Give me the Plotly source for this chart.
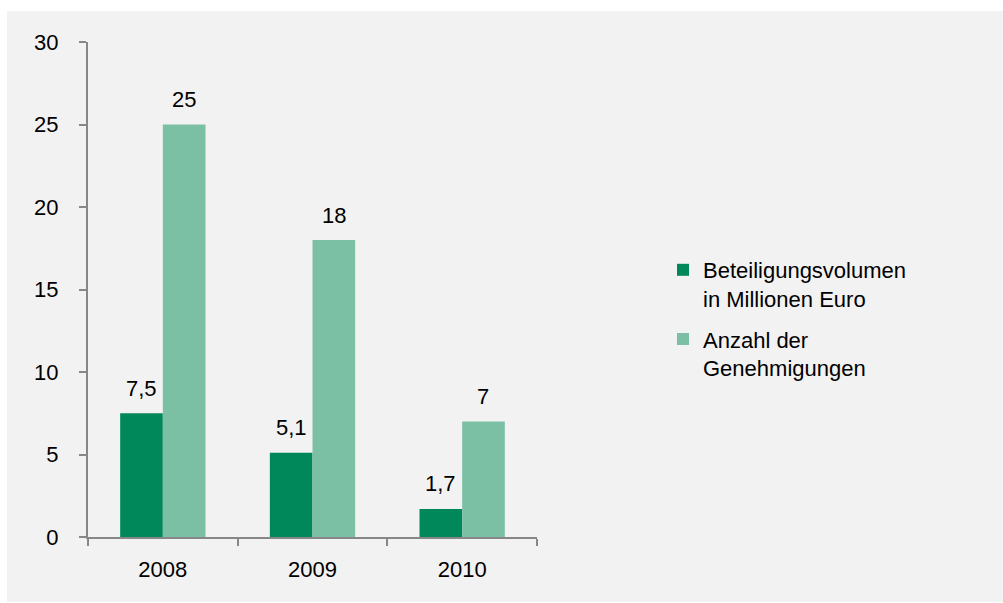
import plotly.graph_objects as go

# Values per year
years = ["2008", "2009", "2010"]
volumen = [7.5, 5.1, 1.7]          # Beteiligungsvolumen in Millionen Euro
genehmigungen = [25, 18, 7]        # Anzahl der Genehmigungen

series_names = ["Beteiligungsvolumen<br>in Millionen Euro", "Anzahl der<br>Genehmigungen"]
y_ticks = [0, 5, 10, 15, 20, 25, 30]

DARK = "#00885A"
LIGHT = "#7BC0A5"
AXIS = "#878787"
BG = "#F2F2F2"
FONT = "Liberation Sans, Arial, sans-serif"
FS = 22

W, H = 1003, 603
L, R, T, B = 88, 466, 42, 66
plot_w = W - L - R
plot_h = H - T - B

BARGAP = 0.43

fig = go.Figure()
for i, (name, vals, col) in enumerate(zip(series_names, [volumen, genehmigungen], [DARK, LIGHT])):
    fig.add_trace(go.Bar(
        x=years, y=vals, name=name, marker_color=col,
        marker_line_width=0, legendgroup=f"g{i}",
    ))

# value labels above each bar, offset to the bar's slot inside the group
cat_px = plot_w / len(years)
bar_px = cat_px * (1 - BARGAP) / 2
for vals, shift in [(volumen, -bar_px / 2), (genehmigungen, bar_px / 2)]:
    for idx, v in enumerate(vals):
        fig.add_annotation(
            x=idx, y=v, xref="x", yref="y",
            text=f"{v:g}".replace(".", ","),
            showarrow=False, xshift=shift, yshift=25,
            yanchor="middle", xanchor="center",
            font=dict(family=FONT, size=FS, color="#000000"),
        )

# grey panel behind everything
fig.add_shape(
    type="rect", xref="paper", yref="paper", layer="below",
    x0=(7 - L) / plot_w, x1=(W - L) / plot_w,
    y0=(H - B - 602) / plot_h, y1=(H - B - 11) / plot_h,
    fillcolor=BG, line_width=0,
)

fig.update_layout(
    width=W, height=H,
    margin=dict(l=L, r=R, t=T, b=B, autoexpand=False),
    paper_bgcolor="white", plot_bgcolor=BG,
    barmode="group", bargap=BARGAP, bargroupgap=0,
    font=dict(family=FONT, size=FS, color="#000000"),
    separators=",.",
    showlegend=True,
    legend=dict(
        x=(663 - L) / plot_w, xanchor="left",
        y=(H - B - 249) / plot_h, yanchor="top",
        bgcolor="rgba(0,0,0,0)", borderwidth=0,
        font=dict(family=FONT, size=FS, color="#000000"),
        valign="top", tracegroupgap=9, itemwidth=30,
        traceorder="grouped",
    ),
)

fig.update_xaxes(
    type="category", range=[-0.5, 2.5],
    showline=True, linecolor=AXIS, linewidth=2,
    ticks="outside", tickson="boundaries", ticklen=7, tickwidth=2, tickcolor=AXIS,
    showgrid=False, zeroline=False, ticklabelstandoff=12,
)
fig.update_yaxes(
    range=[0, 30], tickvals=y_ticks,
    showline=True, linecolor=AXIS, linewidth=2,
    ticks="outside", ticklen=7, tickwidth=2, tickcolor=AXIS,
    showgrid=False, zeroline=False, ticklabelstandoff=16,
)

fig.write_html("out.html")
